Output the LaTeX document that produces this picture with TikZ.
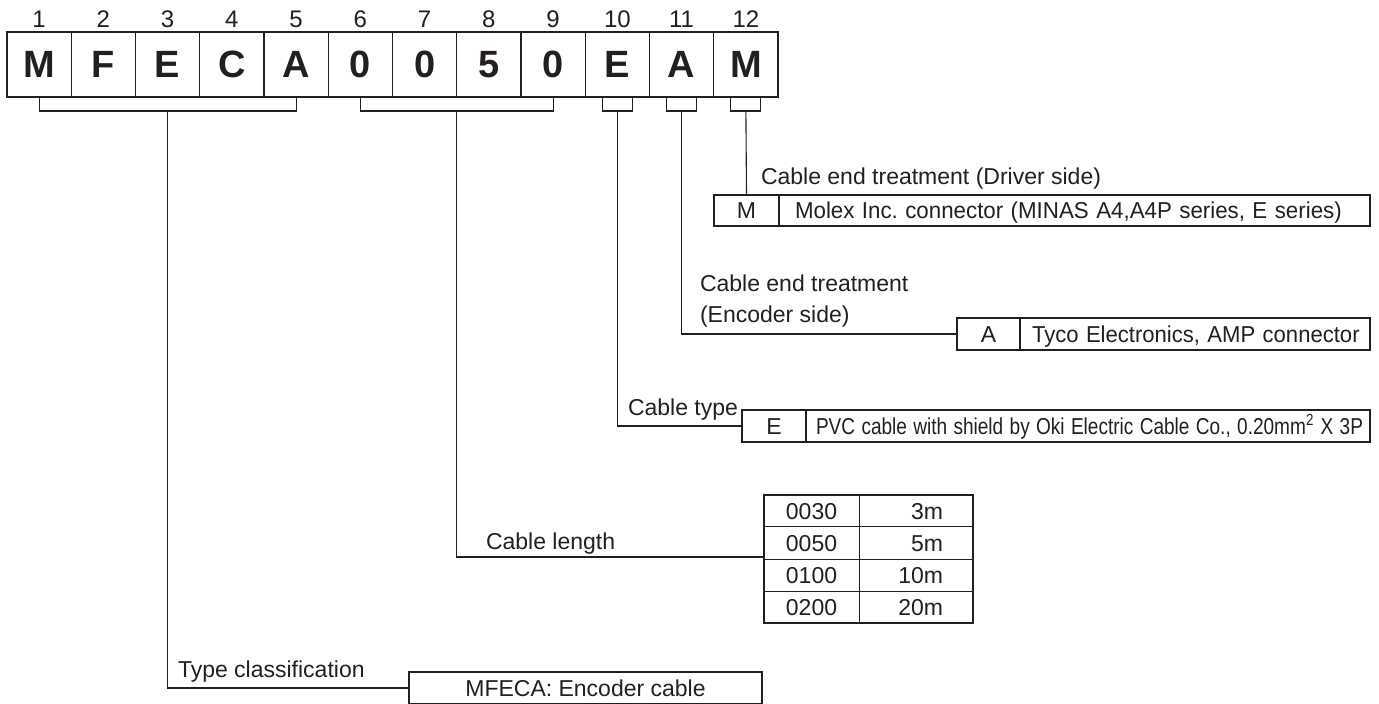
\documentclass[tikz,border=0pt]{standalone}
\usepackage{fontspec}
\setmainfont{Liberation Sans}
\usepackage{graphicx}
\usetikzlibrary{positioning, calc}
\definecolor{InkGray}{RGB}{35,31,32}

\begin{document}
\frenchspacing
\begin{tikzpicture}[x=0.5pt, y=-0.5pt, InkGray, font=\fontsize{11.5}{13}\selectfont,
	every node/.style={inner sep=0pt, outer sep=0pt},
	cell/.style={draw=InkGray, line width=0.65pt, minimum width=32.125pt,
		minimum height=32.5pt, font=\fontsize{19}{20}\selectfont\bfseries},
	code/.style={draw=InkGray, line width=0.9pt, minimum height=15.75pt,
		text height=8.2pt, text depth=0pt},
	desc/.style={draw=InkGray, line width=0.9pt, minimum height=15.75pt,
		text height=8.2pt, text depth=0pt, anchor=west, inner xsep=8pt, align=left},
	tcell/.style={draw=InkGray, line width=0.5pt, minimum height=16pt,
		text height=8.2pt, text depth=0pt},
	lbl/.style={anchor=base west},
	link/.style={draw=InkGray, line width=0.55pt}]
	\useasboundingbox (0,0) rectangle (1379,704);

	% casillas del codigo
	\foreach \ch [count=\i] in {M,F,E,C,A,0,0,5,0,E,A,M}{
		\node[cell] (c\i) at ({7+64.25*(\i-0.5)},64.5) {\ch};
		\node[anchor=base, font=\fontsize{12}{13}\selectfont] (n\i)
			at ({7+64.25*(\i-0.5)},28) {\i};
	}

	% llaves
	\draw[link] (c1.south) -- ++(0,14) -| (c5.south);
	\draw[link] (c6.south) -- ++(0,14) -| (c9.south);
	\foreach \i in {10,11,12}
		\draw[link] ($(c\i.south)+(-15,0)$) -- ++(0,14) -- ++(30,0) -- ++(0,-14);
	\coordinate (s1) at ($(c3.south)+(0,14)$);
	\coordinate (s2) at ($(c7.south east)+(0,14)$);
	\foreach \i in {10,11,12}
		\coordinate (s\i) at ($(c\i.south)+(0,14)$);

	% extremo lado driver
	\node[lbl] (mLbl) at (761,185) {Cable end treatment (Driver side)};
	\node[code, minimum width=32.5pt] (mCode) at (746.5,210.5) {M};
	\node[desc, text width=279.5pt] (mDesc) at (mCode.east)
		{\scalebox{0.97}[1]{Molex Inc. connector (MINAS A4,A4P series, E series)}};
	\draw[link] (s12) -- (mCode.north);

	% extremo lado encoder
	\node[lbl] (aLbl1) at (700,292) {Cable end treatment};
	\node[lbl] (aLbl2) at (700,323) {(Encoder side)};
	\node[code, minimum width=31.5pt] (aCode) at (988.5,334) {A};
	\node[desc, inner xsep=6pt, text width=163pt] (aDesc) at (aCode.east)
		{\scalebox{0.96}[1]{Tyco Electronics, AMP connector}};
	\draw[link] (s11) |- (aCode.west);

	% tipo de cable
	\node[lbl] (eLbl) at (628,416) {Cable type};
	\node[code, minimum width=32pt] (eCode) at (774,426) {E};
	\node[desc, inner xsep=5pt, text width=272pt] (eDesc) at (eCode.east)
		{\scalebox{0.828}[1]{PVC cable with shield by Oki Electric Cable Co., 0.20mm\textsuperscript{2} X 3P}};
	\draw[link] (s10) |- (eCode.west);

	% longitud
	\node[lbl] (lenLbl) at (486,549) {Cable length};
	\foreach \code/\len [count=\r] in {0030/3m, 0050/5m, 0100/10m, 0200/20m}{
		\node[tcell, minimum width=47.5pt] (k\r) at (811.5,{495+32*(\r-0.5)}) {\code};
		\node[tcell, minimum width=57pt, text width=27pt, align=right, anchor=west]
			(l\r) at (k\r.east) {\len};
	}
	\draw[line width=0.9pt] (k1.north west) rectangle (l4.south east);
	\draw[link] (s2) |- ($(k2.south west)+(0,-2)$);

	% clasificacion
	\node[lbl] (typLbl) at (178,677) {Type classification};
	\node[code, minimum width=176.5pt] (typBox) at (585.5,688) {MFECA: Encoder cable};
	\draw[link] (s1) |- (typBox.west);
\end{tikzpicture}
\end{document}
